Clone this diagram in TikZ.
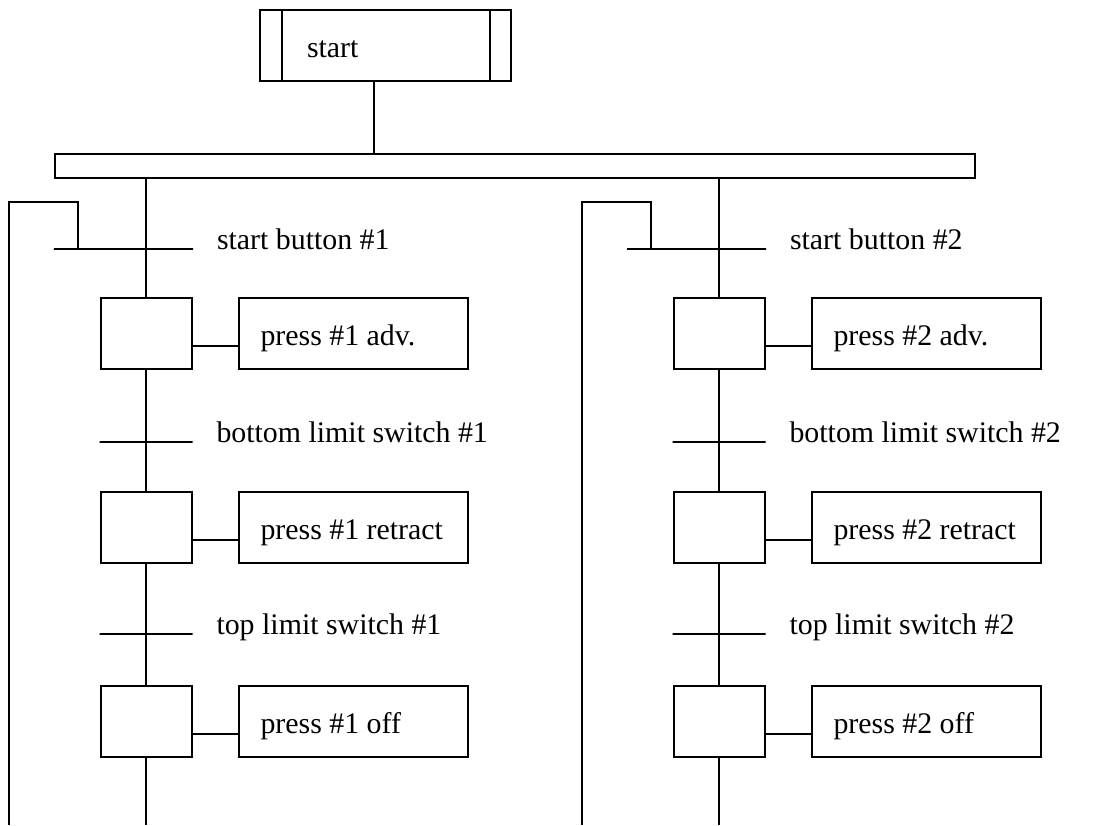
\documentclass[tikz,border=0pt]{standalone}
\usepackage{fontspec}
\setmainfont{Liberation Serif}
\usetikzlibrary{positioning}

\begin{document}
\begin{tikzpicture}[
  x=0.2mm,y=-0.2mm,
  line width=0.4mm,
  font=\fontsize{17}{20}\selectfont,
  node distance=24.2mm and 9mm,
  initstep/.style={draw,minimum width=50.2mm,minimum height=14.2mm,
    inner xsep=9.4mm,text width=31.4mm,align=flush left,
    text height=4.8mm,text depth=0pt},
  stepbox/.style={draw,minimum width=18.2mm,minimum height=14.2mm,inner sep=0pt},
  action/.style={draw,minimum width=45.8mm,minimum height=14.2mm,
    inner xsep=4.4mm,text width=37mm,align=flush left,
    text height=4.8mm,text depth=0pt},
  sync/.style={draw,minimum width=184mm,minimum height=4.8mm,inner sep=0pt},
  trans/.style={draw,minimum width=18.6mm,minimum height=0pt,inner sep=0pt},
  cond/.style={anchor=base west,inner sep=0pt}
]
  \useasboundingbox (0,0) rectangle (1096,825);

  \node[initstep] (start) at (385.5,45.5) {start};
  \draw ([xshift=4.6mm]start.north west) -- ([xshift=4.6mm]start.south west);
  \draw ([xshift=-4.4mm]start.north east) -- ([xshift=-4.4mm]start.south east);
  \node[sync] (bar) at (515,166) {};
  \coordinate (sj) at (374,166);
  \draw (sj |- start.south) -- (sj |- bar.north);

  % press 1
  \node[trans,minimum width=27.8mm] (t11) at (123.5,249) {};
  \node[cond] (c11) at ([xshift=4.4mm]t11.east) {start button \#1};
  \node[stepbox] (s11) at (146,333.5) {};
  \node[action,right=of s11] (a11) {\mbox{press \#1 adv.}};
  \node[trans] (t12) at (146,442) {};
  \node[cond] (c12) at ([xshift=4.4mm]t12.east) {bottom limit switch \#1};
  \node[stepbox,below=of s11] (s12) {};
  \node[action,right=of s12] (a12) {\mbox{press \#1 retract}};
  \node[trans] (t13) at (146,634) {};
  \node[cond] (c13) at ([xshift=4.4mm]t13.east) {top limit switch \#1};
  \node[stepbox,below=of s12] (s13) {};
  \node[action,right=of s13] (a13) {\mbox{press \#1 off}};
  \coordinate (end1) at (146,825);
  \coordinate (ret1) at (9,825);
  \coordinate (hook1) at (78,202);

  \draw (s11.north |- bar.south) -- (s11.north);
  \draw (s11.south) -- (s12.north);
  \draw (s12.south) -- (s13.north);
  \draw (s13.south) -- (end1);
  \draw (a11.base -| s11.east) -- (a11.base -| a11.west);
  \draw (a12.base -| s12.east) -- (a12.base -| a12.west);
  \draw (a13.base -| s13.east) -- (a13.base -| a13.west);
  \draw (ret1) |- (hook1) -- (hook1 |- t11.center);

  % press 2
  \node[trans,minimum width=27.8mm] (t21) at (696.5,249) {};
  \node[cond] (c21) at ([xshift=4.4mm]t21.east) {start button \#2};
  \node[stepbox] (s21) at (719,333.5) {};
  \node[action,right=of s21] (a21) {\mbox{press \#2 adv.}};
  \node[trans] (t22) at (719,442) {};
  \node[cond] (c22) at ([xshift=4.4mm]t22.east) {bottom limit switch \#2};
  \node[stepbox,below=of s21] (s22) {};
  \node[action,right=of s22] (a22) {\mbox{press \#2 retract}};
  \node[trans] (t23) at (719,634) {};
  \node[cond] (c23) at ([xshift=4.4mm]t23.east) {top limit switch \#2};
  \node[stepbox,below=of s22] (s23) {};
  \node[action,right=of s23] (a23) {\mbox{press \#2 off}};
  \coordinate (end2) at (719,825);
  \coordinate (ret2) at (582,825);
  \coordinate (hook2) at (651,202);

  \draw (s21.north |- bar.south) -- (s21.north);
  \draw (s21.south) -- (s22.north);
  \draw (s22.south) -- (s23.north);
  \draw (s23.south) -- (end2);
  \draw (a21.base -| s21.east) -- (a21.base -| a21.west);
  \draw (a22.base -| s22.east) -- (a22.base -| a22.west);
  \draw (a23.base -| s23.east) -- (a23.base -| a23.west);
  \draw (ret2) |- (hook2) -- (hook2 |- t21.center);
\end{tikzpicture}
\end{document}
